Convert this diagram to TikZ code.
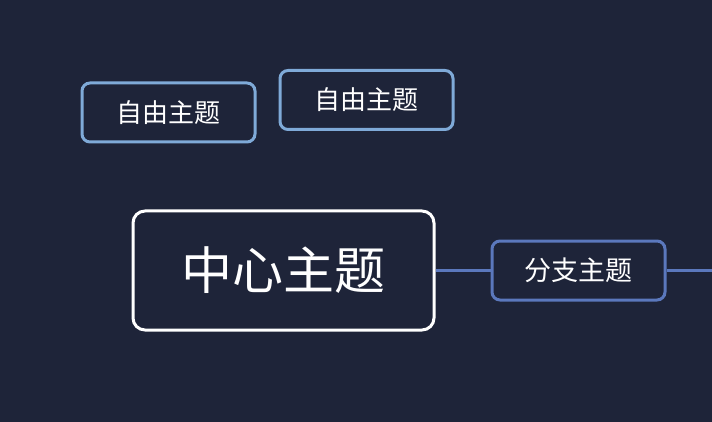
\documentclass[tikz,border=0pt]{standalone}
\usepackage{fontspec}
\newfontfamily\cjk{Noto Sans CJK SC}
\definecolor{bgc}{HTML}{1E2439}
\definecolor{freec}{HTML}{7FAAD8}
\definecolor{branchc}{HTML}{5B78BD}
\begin{document}
\begin{tikzpicture}[x=1pt,y=-1pt,
  freebox/.style={draw=freec,line width=3pt,rounded corners=8pt,fill=bgc,text=white,minimum width=173pt,minimum height=59pt,font=\cjk\fontsize{26}{30}\selectfont,inner sep=0pt},
  centralbox/.style={draw=white,line width=3pt,rounded corners=12pt,fill=bgc,text=white,minimum width=301pt,minimum height=119pt,font=\cjk\fontsize{51}{58}\selectfont,inner sep=0pt},
  branchbox/.style={draw=branchc,line width=3pt,rounded corners=8pt,fill=bgc,text=white,minimum width=173pt,minimum height=59pt,font=\cjk\fontsize{27}{31}\selectfont,inner sep=0pt},
  link/.style={draw=branchc,line width=3pt}]
\fill[bgc] (0,0) rectangle (712,422);
\useasboundingbox (0,0) rectangle (712,422);
\node[freebox] (f1) at (168.5,112.5) {自由主题};
\node[freebox] (f2) at (366.5,100) {自由主题};
\node[centralbox] (c) at (283.5,270.5) {中心主题};
\node[branchbox] (b) at (578.5,270.5) {分支主题};
\coordinate (e) at (712,270.5);
\draw[link] (c.east) -- (b.west);
\draw[link] (b.east) -- (e);
\end{tikzpicture}
\end{document}
